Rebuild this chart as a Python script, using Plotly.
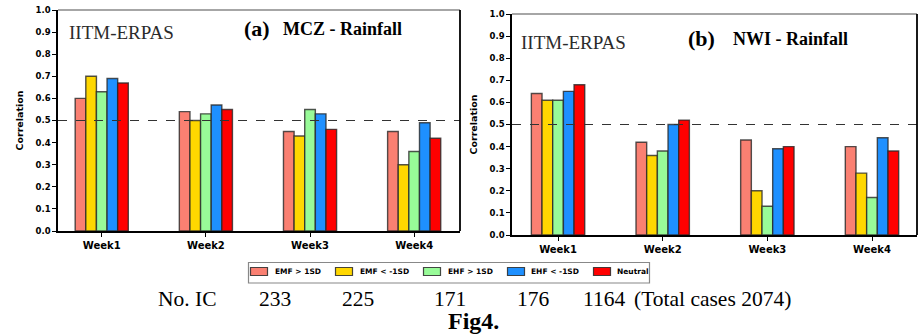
import plotly.graph_objects as go

weeks = ["Week1", "Week2", "Week3", "Week4"]
series_names = ["EMF > 1SD", "EMF < -1SD", "EHF > 1SD", "EHF < -1SD", "Neutral"]
colors = ["#FA8072", "#FFD700", "#98FB98", "#1E90FF", "#FF0000"]

mcz_emf_pos = [0.60, 0.54, 0.45, 0.45]
mcz_emf_neg = [0.70, 0.50, 0.43, 0.30]
mcz_ehf_pos = [0.63, 0.53, 0.55, 0.36]
mcz_ehf_neg = [0.69, 0.57, 0.53, 0.49]
mcz_neutral = [0.67, 0.55, 0.46, 0.42]

nwi_emf_pos = [0.64, 0.42, 0.43, 0.40]
nwi_emf_neg = [0.61, 0.36, 0.20, 0.28]
nwi_ehf_pos = [0.61, 0.38, 0.13, 0.17]
nwi_ehf_neg = [0.65, 0.50, 0.39, 0.44]
nwi_neutral = [0.68, 0.52, 0.40, 0.38]

ic_label = "No. IC"
ic_counts = [233, 225, 171, 176, 1164]
total_label = "(Total cases 2074)"

y_ticks = [0.0, 0.1, 0.2, 0.3, 0.4, 0.5, 0.6, 0.7, 0.8, 0.9, 1.0]
ref_line = 0.5

mcz = [mcz_emf_pos, mcz_emf_neg, mcz_ehf_pos, mcz_ehf_neg, mcz_neutral]
nwi = [nwi_emf_pos, nwi_emf_neg, nwi_ehf_pos, nwi_ehf_neg, nwi_neutral]

W, H = 922, 336
fig = go.Figure()

edge = dict(color="rgba(40,40,40,0.8)", width=1.4)
for i, name in enumerate(series_names):
    fig.add_trace(go.Bar(
        x=weeks, y=mcz[i], name=name, marker_color=colors[i], marker_line=edge,
        xaxis="x", yaxis="y", offsetgroup=str(i), showlegend=False))
for i, name in enumerate(series_names):
    fig.add_trace(go.Bar(
        x=weeks, y=nwi[i], name=name, marker_color=colors[i], marker_line=edge,
        xaxis="x2", yaxis="y2", offsetgroup=str(i), showlegend=False))

def px_x(v):
    return v / W

def px_y(v):
    return 1 - v / H

tick_font = dict(family="DejaVu Sans", size=8.5, color="black", weight="bold")
week_font = dict(family="DejaVu Sans", size=10, color="black", weight="bold")

common_x = dict(type="category", showline=True, linecolor="black", linewidth=1.5,
                ticks="outside", ticklen=4, tickcolor="black", tickfont=week_font,
                showgrid=False, zeroline=False, automargin=False)
common_y = dict(range=[0, 1.0], tickvals=y_ticks, tickformat=".1f", showline=True,
                linecolor="black", linewidth=1.5, ticks="outside", ticklen=4,
                tickcolor="black", tickfont=tick_font, showgrid=False, zeroline=False,
                automargin=False,
                title=dict(text="Correlation", font=dict(family="DejaVu Sans", size=9.5,
                                                         color="black", weight="bold"),
                           standoff=10))

fig.update_layout(
    width=W, height=H, margin=dict(l=0, r=0, t=0, b=0, autoexpand=False),
    paper_bgcolor="white", plot_bgcolor="white",
    barmode="group", bargap=0.49, bargroupgap=0,
    xaxis=dict(domain=[px_x(58), px_x(460)], range=[-0.42, 3.44], anchor="y", **common_x),
    yaxis=dict(domain=[px_y(231), px_y(10)], anchor="x", **common_y),
    xaxis2=dict(domain=[px_x(512), px_x(917)], range=[-0.44, 3.43], anchor="y2", **common_x),
    yaxis2=dict(domain=[px_y(235), px_y(14)], anchor="x2", **common_y),
    showlegend=False,
)

shapes = []
for xr, yr in [("x", "y"), ("x2", "y2")]:
    shapes.append(dict(type="line", xref=xr + " domain", yref=yr, x0=0, x1=1,
                       y0=ref_line, y1=ref_line, line=dict(color="#333", width=1, dash="dash")))
    shapes.append(dict(type="line", xref=xr + " domain", yref=yr + " domain", x0=0, x1=1,
                       y0=1, y1=1, line=dict(color="#888", width=1.5)))
    shapes.append(dict(type="line", xref=xr + " domain", yref=yr + " domain", x0=1, x1=1,
                       y0=0, y1=1, line=dict(color="black", width=1.8)))

# legend box (drawn as a key below the panels)
shapes.append(dict(type="rect", xref="paper", yref="paper",
                   x0=px_x(248.5), x1=px_x(649.5), y0=px_y(283), y1=px_y(262.5),
                   line=dict(color="#888", width=1.2), fillcolor="white"))
swatch_x = [250, 335, 423, 507, 593]
text_x = [273, 358, 446, 529, 615]
ann = []
for sx, tx, name, col in zip(swatch_x, text_x, series_names, colors):
    shapes.append(dict(type="rect", xref="paper", yref="paper",
                       x0=px_x(sx + 0.5), x1=px_x(sx + 17.5), y0=px_y(275.5), y1=px_y(267.5),
                       line=dict(color="rgba(40,40,40,0.85)", width=1.2), fillcolor=col))
    ann.append(dict(text=name, x=px_x(tx), y=px_y(271.5), xref="paper", yref="paper",
                    xanchor="left", yanchor="middle", showarrow=False,
                    font=dict(family="DejaVu Sans", size=7.5, color="black", weight="bold")))
fig.update_layout(shapes=shapes)

serif = "Liberation Serif"
ann.append(dict(text="IITM-ERPAS", x=px_x(67), y=px_y(32), xref="paper", yref="paper",
                xanchor="left", yanchor="middle", showarrow=False,
                font=dict(family=serif, size=19, color="#2b2b2b")))
ann.append(dict(text="<b>(a)</b>", x=px_x(242), y=px_y(28), xref="paper", yref="paper",
                xanchor="left", yanchor="middle", showarrow=False,
                font=dict(family=serif, size=22, color="black")))
ann.append(dict(text="<b>MCZ - Rainfall</b>", x=px_x(281), y=px_y(29), xref="paper", yref="paper",
                xanchor="left", yanchor="middle", showarrow=False,
                font=dict(family=serif, size=18, color="black")))
ann.append(dict(text="IITM-ERPAS", x=px_x(519), y=px_y(42), xref="paper", yref="paper",
                xanchor="left", yanchor="middle", showarrow=False,
                font=dict(family=serif, size=19, color="#2b2b2b")))
ann.append(dict(text="<b>(b)</b>", x=px_x(686), y=px_y(38), xref="paper", yref="paper",
                xanchor="left", yanchor="middle", showarrow=False,
                font=dict(family=serif, size=22, color="black")))
ann.append(dict(text="<b>NWI - Rainfall</b>", x=px_x(731), y=px_y(39), xref="paper", yref="paper",
                xanchor="left", yanchor="middle", showarrow=False,
                font=dict(family=serif, size=18, color="black")))

bottom_font = dict(family=serif, size=21.5, color="black")
ann.append(dict(text=ic_label, x=px_x(156), y=px_y(299), xref="paper", yref="paper",
                xanchor="left", yanchor="middle", showarrow=False, font=bottom_font))
ic_x = [257, 340, 432, 515, 581]
for cx, c in zip(ic_x, ic_counts):
    ann.append(dict(text=str(c), x=px_x(cx), y=px_y(299), xref="paper", yref="paper",
                    xanchor="left", yanchor="middle", showarrow=False, font=bottom_font))
ann.append(dict(text=total_label, x=px_x(632), y=px_y(299), xref="paper", yref="paper",
                xanchor="left", yanchor="middle", showarrow=False, font=bottom_font))
ann.append(dict(text="<b>Fig4.</b>", x=px_x(473), y=px_y(321), xref="paper", yref="paper",
                xanchor="center", yanchor="middle", showarrow=False,
                font=dict(family=serif, size=24, color="black")))
fig.update_layout(annotations=ann)

fig.write_html("out.html", config={"displayModeBar": False},
               post_script="document.body.style.margin='0';document.body.style.overflow='hidden';")
